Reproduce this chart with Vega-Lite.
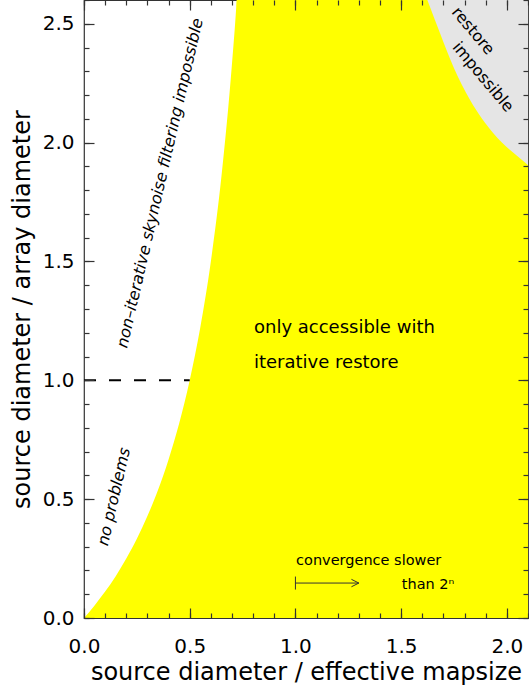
{
  "$schema": "https://vega.github.io/schema/vega-lite/v6.json",
  "width": 444,
  "height": 618,
  "autosize": "none",
  "padding": {"left": 84, "top": 0, "right": 1, "bottom": 69},
  "background": "white",
  "config": {
    "view": {"stroke": "#333", "strokeWidth": 1.2},
    "text": {"font": "DejaVu Sans", "color": "black"},
    "axis": {"zindex": 1, "labelFont": "DejaVu Sans", "titleFont": "DejaVu Sans", "grid": false, "domain": false, "ticks": true, "tickColor": "#333", "tickWidth": 1.2, "tickOpacity": 1, "labelColor": "black", "titleColor": "black", "titleFontWeight": "normal", "labelFlush": false, "labelOverlap": false}
  },
  "datasets": {
    "yellow": [
      {"x": 0, "y": 0}, {"x": 0.05, "y": 0.053}, {"x": 0.1, "y": 0.111}, {"x": 0.15, "y": 0.176},
      {"x": 0.2, "y": 0.25}, {"x": 0.25, "y": 0.333}, {"x": 0.3, "y": 0.429}, {"x": 0.35, "y": 0.538},
      {"x": 0.4, "y": 0.667}, {"x": 0.45, "y": 0.818}, {"x": 0.5, "y": 1.0}, {"x": 0.55, "y": 1.222},
      {"x": 0.6, "y": 1.5}, {"x": 0.65, "y": 1.857}, {"x": 0.7, "y": 2.333}, {"x": 0.72, "y": 2.571},
      {"x": 0.722, "y": 2.6}, {"x": 2.1, "y": 2.6}
    ],
    "gray": [
      {"x": 1.624, "y": 2.6}, {"x": 1.684, "y": 2.46}, {"x": 1.747, "y": 2.319}, {"x": 1.826, "y": 2.179},
      {"x": 1.936, "y": 2.039}, {"x": 2.09, "y": 1.913}, {"x": 2.1, "y": 1.905}
    ],
    "dash": [{"x": 0, "x2": 0.5, "y": 1.0}],
    "arrow": [{"x": 1.0, "x2": 1.3, "y": 0.147}],
    "steep": [
      {"text": "non–iterative skynoise filtering impossible", "x": 0.36, "y": 1.83},
      {"text": "no problems", "x": 0.142, "y": 0.51}
    ],
    "restore": [
      {"text": "restore", "x": 1.84, "y": 2.47},
      {"text": "impossible", "x": 1.887, "y": 2.276}
    ],
    "main": [
      {"text": "only accessible with", "x": 0.804, "y": 1.199},
      {"text": "iterative restore", "x": 0.804, "y": 1.052}
    ],
    "conv": [
      {"text": "convergence slower", "x": 1.003, "y": 0.223},
      {"text": "than 2ⁿ", "x": 1.503, "y": 0.121}
    ]
  },
  "resolve": {"axis": {"x": "independent", "y": "independent"}},
  "layer": [
    {
      "data": {"name": "yellow"},
      "mark": {"type": "area", "color": "#ffff00", "interpolate": "monotone", "clip": true},
      "encoding": {
        "x": {"field": "x", "type": "quantitative", "scale": {"domain": [0, 2.1], "nice": false, "zero": false},
          "axis": {"zindex": 2, "orient": "bottom", "offset": -10, "values": [0, 0.5, 1, 1.5, 2], "format": ".1f", "tickSize": 10, "labelPadding": 18, "labelFontSize": 20, "title": "source diameter / effective mapsize", "titleFontSize": 24, "titlePadding": 4}},
        "y": {"field": "y", "type": "quantitative", "scale": {"domain": [0, 2.6], "nice": false, "zero": false},
          "axis": {"zindex": 2, "orient": "left", "offset": -10, "values": [0, 0.5, 1, 1.5, 2, 2.5], "format": ".1f", "tickSize": 10, "labelPadding": 10, "labelFontSize": 20, "title": "source diameter / array diameter", "titleFontSize": 24, "titlePadding": 8}}
      }
    },
    {
      "data": {"name": "gray"},
      "mark": {"type": "area", "color": "#e5e5e5", "interpolate": "monotone", "clip": true},
      "encoding": {
        "x": {"field": "x", "type": "quantitative",
          "axis": {"zindex": 2, "orient": "top", "offset": -10, "values": [0, 0.5, 1, 1.5, 2], "tickSize": 10, "labels": false, "title": null}},
        "y": {"field": "y", "type": "quantitative",
          "axis": {"zindex": 2, "orient": "right", "offset": -10, "values": [0, 0.5, 1, 1.5, 2, 2.5], "tickSize": 10, "labels": false, "title": null}},
        "y2": {"datum": 2.6}
      }
    },
    {
      "data": {"name": "dash"},
      "mark": {"type": "rule", "color": "black", "strokeWidth": 2, "strokeDash": [12, 13]},
      "encoding": {
        "x": {"field": "x", "type": "quantitative",
          "axis": {"zindex": 2, "orient": "bottom", "offset": -5, "values": [0, 0.1, 0.2, 0.3, 0.4, 0.5, 0.6, 0.7, 0.8, 0.9, 1, 1.1, 1.2, 1.3, 1.4, 1.5, 1.6, 1.7, 1.8, 1.9, 2, 2.1], "tickSize": 5, "labels": false, "title": null}},
        "x2": {"field": "x2"},
        "y": {"field": "y", "type": "quantitative",
          "axis": {"zindex": 2, "orient": "left", "offset": -5, "values": [0, 0.1, 0.2, 0.3, 0.4, 0.5, 0.6, 0.7, 0.8, 0.9, 1, 1.1, 1.2, 1.3, 1.4, 1.5, 1.6, 1.7, 1.8, 1.9, 2, 2.1, 2.2, 2.3, 2.4, 2.5, 2.6], "tickSize": 5, "labels": false, "title": null}}
      }
    },
    {
      "data": {"name": "arrow"},
      "mark": {"type": "rule", "color": "#333", "strokeWidth": 1},
      "encoding": {
        "x": {"field": "x", "type": "quantitative",
          "axis": {"zindex": 2, "orient": "top", "offset": -5, "values": [0, 0.1, 0.2, 0.3, 0.4, 0.5, 0.6, 0.7, 0.8, 0.9, 1, 1.1, 1.2, 1.3, 1.4, 1.5, 1.6, 1.7, 1.8, 1.9, 2, 2.1], "tickSize": 5, "labels": false, "title": null}},
        "x2": {"field": "x2"},
        "y": {"field": "y", "type": "quantitative",
          "axis": {"zindex": 2, "orient": "right", "offset": -5, "values": [0, 0.1, 0.2, 0.3, 0.4, 0.5, 0.6, 0.7, 0.8, 0.9, 1, 1.1, 1.2, 1.3, 1.4, 1.5, 1.6, 1.7, 1.8, 1.9, 2, 2.1, 2.2, 2.3, 2.4, 2.5, 2.6], "tickSize": 5, "labels": false, "title": null}}
      }
    },
    {
      "data": {"name": "arrow"},
      "mark": {"type": "point", "shape": "M0,-1L0,1", "size": 169, "filled": false, "stroke": "#333", "strokeWidth": 1, "opacity": 1},
      "encoding": {
        "x": {"field": "x", "type": "quantitative", "axis": null},
        "y": {"field": "y", "type": "quantitative", "axis": null}
      }
    },
    {
      "data": {"name": "arrow"},
      "mark": {"type": "point", "shape": "M-2,-1L0,0L-2,1", "size": 55, "filled": false, "stroke": "#333", "strokeWidth": 1, "opacity": 1},
      "encoding": {
        "x": {"field": "x2", "type": "quantitative", "axis": null},
        "y": {"field": "y", "type": "quantitative", "axis": null}
      }
    },
    {
      "data": {"name": "steep"},
      "mark": {"type": "text", "angle": 283, "fontSize": 16, "fontStyle": "italic", "align": "center", "baseline": "middle"},
      "encoding": {
        "x": {"field": "x", "type": "quantitative", "axis": null},
        "y": {"field": "y", "type": "quantitative", "axis": null},
        "text": {"field": "text"}
      }
    },
    {
      "data": {"name": "restore"},
      "mark": {"type": "text", "angle": 50, "fontSize": 16, "align": "center", "baseline": "middle"},
      "encoding": {
        "x": {"field": "x", "type": "quantitative", "axis": null},
        "y": {"field": "y", "type": "quantitative", "axis": null},
        "text": {"field": "text"}
      }
    },
    {
      "data": {"name": "main"},
      "mark": {"type": "text", "fontSize": 18, "align": "left", "baseline": "alphabetic"},
      "encoding": {
        "x": {"field": "x", "type": "quantitative", "axis": null},
        "y": {"field": "y", "type": "quantitative", "axis": null},
        "text": {"field": "text"}
      }
    },
    {
      "data": {"name": "conv"},
      "mark": {"type": "text", "fontSize": 14.5, "align": "left", "baseline": "alphabetic"},
      "encoding": {
        "x": {"field": "x", "type": "quantitative", "axis": null},
        "y": {"field": "y", "type": "quantitative", "axis": null},
        "text": {"field": "text"}
      }
    }
  ]
}
